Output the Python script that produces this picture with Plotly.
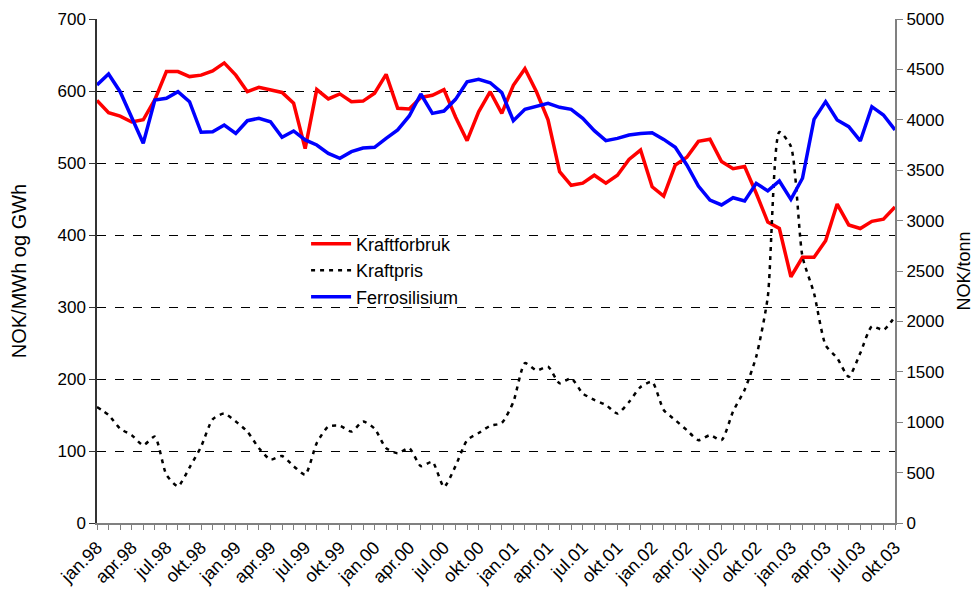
import plotly.graph_objects as go

months = ["jan", "feb", "mar", "apr", "mai", "jun", "jul", "aug", "sep", "okt", "nov", "des"]
years = ["98", "99", "00", "01", "02", "03"]
categories = [f"{m}.{y}" for y in years for m in months][:70]

kraftforbruk = [587, 570, 565, 557, 560, 588, 627, 627, 620, 622, 628, 639,
                622, 599, 605, 601, 598, 583, 520, 602, 589, 596, 585, 586,
                597, 623, 576, 575, 591, 594, 602, 564, 531, 571, 599, 569,
                608, 631, 599, 560, 488, 469, 472, 483, 472, 483, 505, 518,
                467, 454, 497, 508, 530, 533, 502, 492, 495, 458, 418, 409,
                342, 369, 369, 392, 443, 414, 409, 419, 422, 439]

kraftpris = [161, 150, 131, 122, 108, 120, 67, 51, 77, 106, 144, 152,
             141, 127, 104, 88, 93, 79, 67, 111, 134, 135, 127, 141,
             131, 104, 97, 104, 79, 85, 50, 79, 115, 125, 135, 139,
             168, 222, 212, 217, 194, 201, 180, 171, 164, 152, 168, 189,
             196, 157, 143, 129, 115, 122, 115, 155, 185, 231, 314, 543,
             523, 370, 319, 247, 229, 203, 236, 273, 268, 287]

ferrosilisium = [4345, 4454, 4279, 4031, 3767, 4196, 4213, 4279, 4180, 3876, 3882, 3948,
                 3866, 3991, 4015, 3981, 3826, 3889, 3800, 3750, 3667, 3618, 3684, 3720,
                 3727, 3816, 3899, 4038, 4256, 4064, 4087, 4203, 4378, 4402, 4368, 4270,
                 3991, 4104, 4130, 4164, 4124, 4104, 4015, 3892, 3793, 3816, 3849, 3865,
                 3872, 3806, 3727, 3552, 3343, 3204, 3155, 3227, 3194, 3370, 3295, 3393,
                 3211, 3420, 4005, 4180, 3998, 3932, 3790, 4130, 4048, 3899]

left_ticks = [0, 100, 200, 300, 400, 500, 600, 700]
right_ticks = [0, 500, 1000, 1500, 2000, 2500, 3000, 3500, 4000, 4500, 5000]

x = list(range(len(categories)))
tick_idx = list(range(0, len(categories), 3))

font = "Liberation Sans, Arial, sans-serif"

fig = go.Figure()
fig.add_trace(go.Scatter(x=x, y=kraftforbruk, name="Kraftforbruk", mode="lines",
                         line=dict(color="#ff0000", width=3.5)))
fig.add_trace(go.Scatter(x=x, y=kraftpris, name="Kraftpris", mode="lines",
                         line=dict(color="#000000", width=2.5, dash="4px,5px",
                                   shape="spline", smoothing=0.6)))
fig.add_trace(go.Scatter(x=x, y=ferrosilisium, name="Ferrosilisium", mode="lines",
                         yaxis="y2", line=dict(color="#0000ff", width=3.5)))

fig.update_layout(
    width=972, height=584,
    margin=dict(l=89, r=85, t=11, b=69, autoexpand=False),
    paper_bgcolor="white", plot_bgcolor="white",
    font=dict(family=font, size=17, color="black"),
    showlegend=True,
    legend=dict(x=0.262, y=0.59, xanchor="left", yanchor="top",
                bgcolor="rgba(0,0,0,0)", font=dict(size=18),
                itemwidth=40, tracegroupgap=0),
    xaxis=dict(
        range=[0, len(categories) - 1], automargin=False,
        tickmode="array", tickvals=tick_idx,
        ticktext=[categories[i] for i in tick_idx],
        tickangle=-45, ticks="outside", ticklen=5, tickcolor="#808080",
        minor=dict(dtick=1, ticks="outside", ticklen=5, tickcolor="#808080"),
        showgrid=False, zeroline=False,
        showline=True, linecolor="#808080", linewidth=2,
        tickfont=dict(size=18),
    ),
    yaxis=dict(
        range=[0, 700], tickvals=left_ticks, automargin=False,
        title=dict(text="NOK/MWh og GWh", font=dict(size=20), standoff=30),
        showgrid=True, gridcolor="black", griddash="dash", gridwidth=1,
        zeroline=False, showline=True, linecolor="#333333", linewidth=1.5,
        ticks="outside", ticklen=6, tickcolor="#333333",
        tickfont=dict(size=17),
    ),
    yaxis2=dict(
        range=[0, 5000], tickvals=right_ticks, automargin=False,
        overlaying="y", side="right", anchor="x",
        title=dict(text="NOK/tonn", font=dict(size=18), standoff=14),
        showgrid=False, zeroline=False,
        showline=True, linecolor="#808080", linewidth=2,
        ticks="outside", ticklen=6, tickcolor="#808080",
        tickfont=dict(size=17),
    ),
)

fig.write_html("out.html")
